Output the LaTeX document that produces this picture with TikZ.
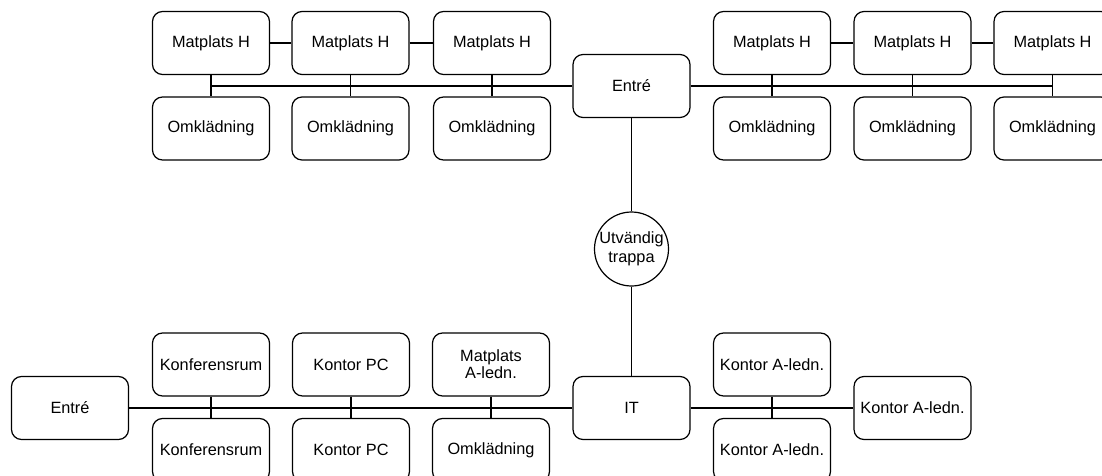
\documentclass[tikz,border=0pt]{standalone}
\usepackage{fontspec}
\setmainfont{Liberation Sans}
\begin{document}
\begin{tikzpicture}[x=1pt,y=-1pt,
  room/.style={draw, line width=1.2pt, rounded corners=10pt, minimum width=117pt,
    minimum height=63pt, inner sep=2pt, align=center,
    font=\fontsize{16.3pt}{18pt}\selectfont},
  stair/.style={draw, line width=1.2pt, circle, minimum size=74pt, inner sep=0pt,
    align=center, font=\fontsize{16.3pt}{19.5pt}\selectfont},
  link/.style={line width=1.2pt}]
\useasboundingbox (0,0) rectangle (1102,476);
\clip (0,0) rectangle (1102,476);

% upper floor, west wing
\node[room] (mw1) at (211,43) {Matplats H};
\node[room] (mw2) at (350.5,43) {Matplats H};
\node[room] (mw3) at (492,43) {Matplats H};
\node[room] (ow1) at (211,128.5) {Omklädning};
\node[room] (ow2) at (350.5,128.5) {Omklädning};
\node[room] (ow3) at (492,128.5) {Omklädning};

% upper floor, entrance and east wing
\node[room] (entreU) at (631.5,86) {Entré};
\node[room] (me1) at (772,43) {Matplats H};
\node[room] (me2) at (912.5,43) {Matplats H};
\node[room] (me3) at (1052.5,43) {Matplats H};
\node[room] (oe1) at (772,128.5) {Omklädning};
\node[room] (oe2) at (912.5,128.5) {Omklädning};
\node[room] (oe3) at (1052.5,128.5) {Omklädning};

% outdoor stairs
\node[stair] (trappa) at (631.5,249) {Utvändig\\trappa};

% lower floor
\node[room] (entreL) at (70,408) {Entré};
\node[room] (konf1) at (211,364.5) {Konferensrum};
\node[room] (konf2) at (211,450) {Konferensrum};
\node[room] (pc1) at (351,364.5) {Kontor PC};
\node[room] (pc2) at (351,450) {Kontor PC};
\node[room, font=\fontsize{16.3pt}{16.8pt}\selectfont] (matA) at (491,364.5) {Matplats\\A-ledn.};
\node[room] (omkA) at (491,450) {Omklädning};
\node[room] (it) at (631.5,408) {IT};
\node[room] (ka1) at (772,364.5) {Kontor A-ledn.};
\node[room] (ka2) at (772,450) {Kontor A-ledn.};
\node[room] (ka3) at (912.5,408) {Kontor A-ledn.};

% corridor ends
\coordinate (busW) at (211,86);
\coordinate (busE) at (1052.5,86);

% upper floor connections
\draw[link] (mw1) -- (mw2);
\draw[link] (mw2) -- (mw3);
\draw[link] (me1) -- (me2);
\draw[link] (me2) -- (me3);
\draw[link] (busW) -- (entreU.west);
\draw[link] (entreU.east) -- (busE);
\foreach \a/\b in {mw1/ow1, mw2/ow2, mw3/ow3, me1/oe1, me2/oe2, me3/oe3}
  \draw[link] (\a.south) -- (\b.north);

% stairs between floors
\draw[link] (entreU.south) -- (trappa.north);
\draw[link] (trappa.south) -- (it.north);

% lower floor connections
\draw[link] (entreL.east) -- (it.west);
\draw[link] (it.east) -- (ka3.west);
\foreach \a/\b in {konf1/konf2, pc1/pc2, matA/omkA, ka1/ka2}
  \draw[link] (\a.south) -- (\b.north);
\end{tikzpicture}
\end{document}
